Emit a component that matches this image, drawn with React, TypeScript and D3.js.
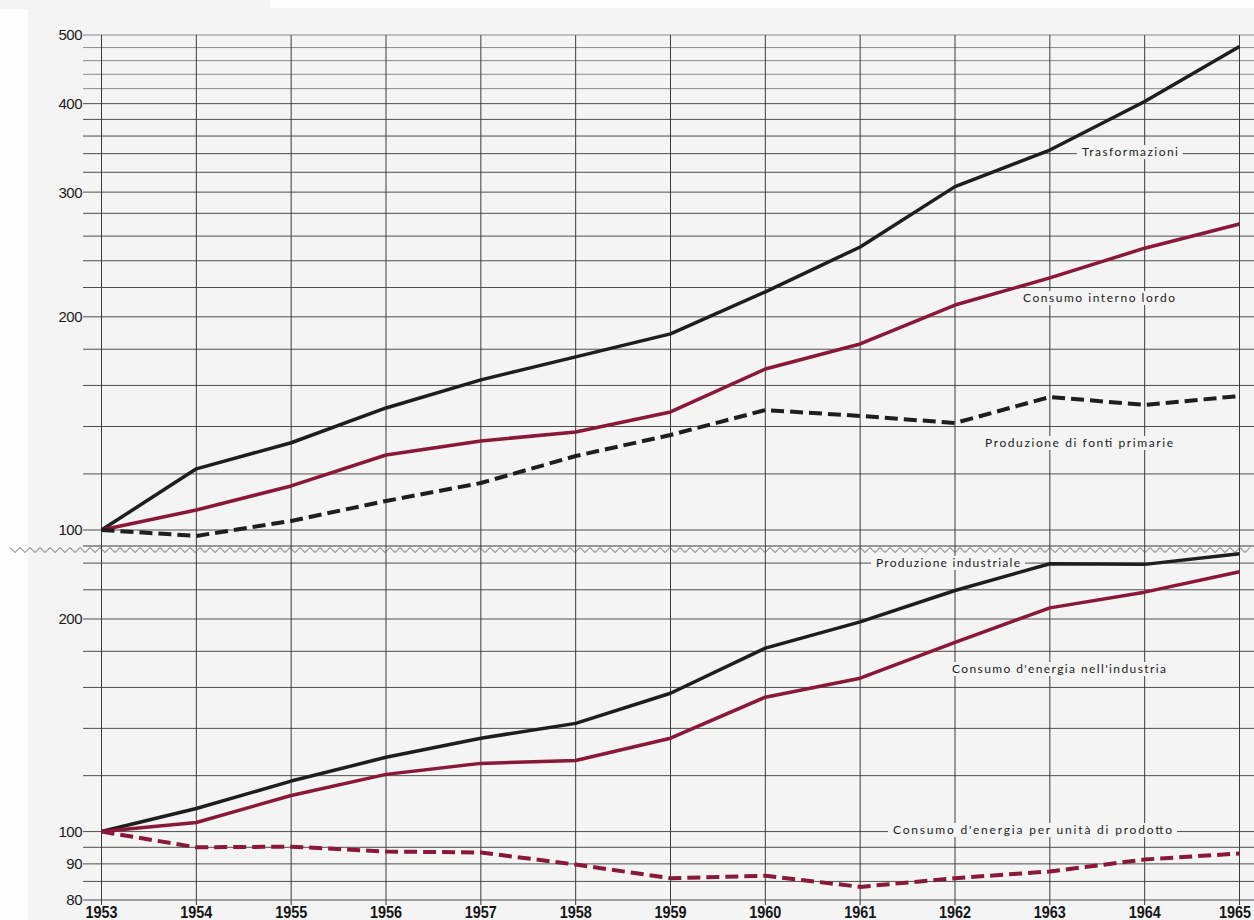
import React from "react";
import * as d3 from "d3";

const YEARS = [1953, 1954, 1955, 1956, 1957, 1958, 1959, 1960, 1961, 1962, 1963, 1964, 1965];

// Upper panel (index 1953 = 100, log scale)
const TRASFORMAZIONI = [100, 122, 132.8, 148.7, 162.9, 175.6, 189.2, 216.9, 251, 305.4, 344, 402.7, 481.6];
const CONSUMO_INTERNO_LORDO = [100, 106.7, 115.4, 127.6, 133.6, 137.5, 146.8, 168.8, 183.1, 207.8, 227, 250, 270.5];
const PRODUZIONE_FONTI_PRIMARIE = [100, 98.1, 103, 109.9, 116.5, 127.2, 136.2, 147.7, 144.9, 141.6, 154.1, 150.2, 154.6];

// Lower panel (index 1953 = 100, log scale)
const PRODUZIONE_INDUSTRIALE = [100, 107.8, 117.9, 127.4, 135.6, 142.3, 157, 181.9, 198.1, 219.5, 239.5, 239, 247.4];
const CONSUMO_ENERGIA_INDUSTRIA = [100, 103, 112.5, 120.5, 124.9, 126.1, 135.6, 155, 164.9, 185.3, 207.4, 218.3, 233.3];
const CONSUMO_PER_UNITA = [100, 95, 95.2, 93.7, 93.4, 89.8, 85.9, 86.6, 83.5, 85.9, 87.8, 91.3, 93.1];

const TOP_GRID = [100, 120, 140, 160, 180, 200, 220, 240, 260, 280, 300, 320, 340, 360, 380, 400, 420, 440, 460, 480, 500];
const TOP_LABELS = [100, 200, 300, 400, 500];
const BOT_GRID = [80, 85, 90, 95, 100, 120, 140, 160, 180, 200, 220, 240];
const BOT_LABELS = [80, 90, 100, 200];

const W = 1254;
const H = 920;
const BG = "#f4f4f4";
const BLACK = "#1e1e1e";
const CRIMSON = "#8a1838";
const GRID = "#3c3c3c";

const x = d3.scaleLinear().domain([1953, 1965]).range([101.5, 1239.5]);
const yTop = d3.scaleLog().domain([100, 500]).range([530, 35]);
const yBot = d3.scaleLog().domain([80, 200]).range([900, 619]);

type Ann = { text: string; x1: number; x2: number; y: number };
const ANNOTATIONS: Ann[] = [
  { text: "Trasformazioni", x1: 1082, x2: 1178, y: 152 },
  { text: "Consumo interno lordo", x1: 1023, x2: 1175, y: 298 },
  { text: "Produzione di fonti primarie", x1: 985, x2: 1173, y: 443 },
  { text: "Produzione industriale", x1: 876, x2: 1020, y: 563 },
  { text: "Consumo d'energia nell'industria", x1: 952, x2: 1166, y: 669 },
  { text: "Consumo d'energia  per unità di prodotto", x1: 893, x2: 1172, y: 830 },
];

export default function App() {
  const lineTop = d3
    .line<number>()
    .x((_, i) => x(YEARS[i]))
    .y((v) => yTop(v));
  const lineBot = d3
    .line<number>()
    .x((_, i) => x(YEARS[i]))
    .y((v) => yBot(v));

  // zigzag break
  const zig: [number, number][] = [];
  for (let px = 10, k = 0; px <= W; px += 5, k++) {
    zig.push([px, k % 2 === 0 ? 547.5 : 552.5]);
  }
  const zigPath = d3.line()(zig) || "";

  const gridLeft = 83;
  const gridRight = W;

  return (
    <svg
      width={W}
      height={H}
      style={{ position: "absolute", left: 0, top: 0, display: "block" }}
      xmlns="http://www.w3.org/2000/svg"
    >
      <rect x={0} y={0} width={W} height={H} fill={BG} />
      <rect x={0} y={9} width={28} height={H} fill="#fdfdfd" />
      <rect x={270} y={0} width={W - 270} height={8} fill="#fdfdfd" />

      {/* horizontal gridlines, top panel */}
      {TOP_GRID.map((v) => (
        <line
          key={"tg" + v}
          x1={gridLeft}
          x2={gridRight}
          y1={yTop(v)}
          y2={yTop(v)}
          stroke={GRID}
          strokeWidth={v > 400 ? 0.8 : 1}
          strokeOpacity={v > 400 ? 0.7 : 0.9}
        />
      ))}
      {/* horizontal gridlines, bottom panel */}
      {BOT_GRID.map((v) => (
        <line
          key={"bg" + v}
          x1={gridLeft}
          x2={gridRight}
          y1={yBot(v)}
          y2={yBot(v)}
          stroke={GRID}
          strokeWidth={1}
          strokeOpacity={0.9}
        />
      ))}

      {/* vertical gridlines */}
      {YEARS.map((yr) => (
        <line
          key={"v" + yr}
          x1={x(yr)}
          x2={x(yr)}
          y1={yTop(500)}
          y2={905}
          stroke={GRID}
          strokeWidth={1}
        />
      ))}

      {/* break */}
      <line x1={gridLeft} x2={gridRight} y1={546} y2={546} stroke={GRID} strokeWidth={1} />
      <path d={zigPath} fill="none" stroke="#555" strokeWidth={0.9} />

      {/* y labels */}
      {TOP_LABELS.map((v) => (
        <text
          key={"tl" + v}
          x={82}
          y={yTop(v)}
          dy="0.36em"
          textAnchor="end"
          fontFamily="'Liberation Sans', Arial, sans-serif"
          fontSize={15}
          fill="#1a1a1a"
          letterSpacing={-0.5}
        >
          {v}
        </text>
      ))}
      {BOT_LABELS.map((v) => (
        <text
          key={"bl" + v}
          x={82}
          y={yBot(v)}
          dy="0.36em"
          textAnchor="end"
          fontFamily="'Liberation Sans', Arial, sans-serif"
          fontSize={15}
          fill="#1a1a1a"
          letterSpacing={-0.5}
        >
          {v}
        </text>
      ))}

      {/* x labels */}
      {YEARS.map((yr) => (
        <text
          key={"xl" + yr}
          transform={`translate(${Math.min(x(yr), W - 19)},918) scale(0.9,1)`}
          textAnchor="middle"
          fontFamily="'Liberation Sans', Arial, sans-serif"
          fontWeight="bold"
          fontSize={16}
          fill="#151515"
        >
          {yr}
        </text>
      ))}

      {/* annotation backgrounds and text */}
      {ANNOTATIONS.map((a) => (
        <g key={a.text}>
          <rect x={a.x1 - 5} y={a.y - 7} width={a.x2 - a.x1 + 10} height={14} fill={BG} />
          <text
            x={a.x1}
            y={a.y}
            dy="0.35em"
            textLength={a.x2 - a.x1}
            lengthAdjust="spacing"
            fontFamily="Lato, 'DejaVu Sans', sans-serif"
            fontSize={12}
            fill="#222"
          >
            {a.text}
          </text>
        </g>
      ))}

      {/* top panel series */}
      <path d={lineTop(TRASFORMAZIONI) || ""} fill="none" stroke={BLACK} strokeWidth={3.5} strokeLinejoin="round" />
      <path d={lineTop(CONSUMO_INTERNO_LORDO) || ""} fill="none" stroke={CRIMSON} strokeWidth={3.5} strokeLinejoin="round" />
      <path
        d={lineTop(PRODUZIONE_FONTI_PRIMARIE) || ""}
        fill="none"
        stroke={BLACK}
        strokeWidth={4}
        strokeDasharray="13,6"
      />

      {/* bottom panel series */}
      <path d={lineBot(PRODUZIONE_INDUSTRIALE) || ""} fill="none" stroke={BLACK} strokeWidth={3.5} strokeLinejoin="round" />
      <path d={lineBot(CONSUMO_ENERGIA_INDUSTRIA) || ""} fill="none" stroke={CRIMSON} strokeWidth={3.5} strokeLinejoin="round" />
      <path
        d={lineBot(CONSUMO_PER_UNITA) || ""}
        fill="none"
        stroke={CRIMSON}
        strokeWidth={4}
        strokeDasharray="13,6"
      />
    </svg>
  );
}
